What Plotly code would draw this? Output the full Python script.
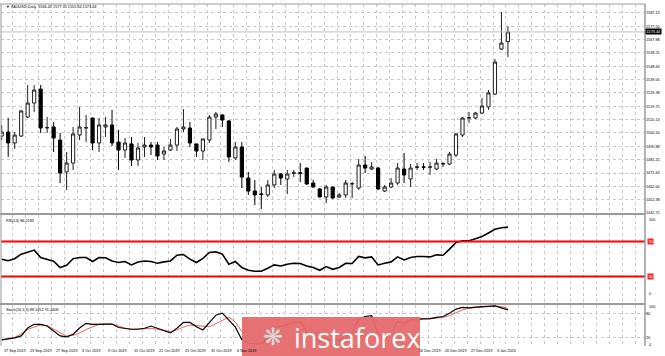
import plotly.graph_objects as go

# ---------------- data ----------------
opens = [1498.3,1501.2,1493.3,1498.3,1512.0,1522.1,1532.2,1504.1,1504.8,1495.4,
         1472.4,1478.8,1499.0,1504.1,1511.3,1493.3,1504.8,1506.3,1494.0,1488.2,
         1492.6,1481.0,1490.4,1491.8,1491.8,1485.3,1488.2,1491.8,1503.4,1504.1,
         1492.6,1487.5,1495.4,1512.0,1513.5,1509.2,1482.5,1490.4,1468.0,1458.6,
         1456.5,1455.8,1463.0,1470.9,1467.3,1471.4,1471.8,1475.2,1464.4,1460.1,
         1454.3,1461.5,1454.3,1455.8,1463.7,1460.8,1477.4,1474.5,1475.2,1458.6,
         1461.5,1464.4,1474.5,1467.3,1475.6,1476.0,1475.8,1474.5,1478.0,1478.1,
         1484.6,1499.0,1511.3,1511.3,1514.9,1519.3,1528.6,1561.1,1566.41]
highs = [1506.3,1511.3,1501.2,1517.1,1535.1,1535.1,1535.1,1512.0,1508.4,1500.5,
         1486.8,1504.8,1519.3,1513.5,1511.5,1511.3,1512.0,1517.1,1502.7,1496.9,
         1497.6,1493.3,1497.6,1494.0,1494.0,1490.4,1496.2,1504.8,1517.8,1508.4,
         1492.8,1496.4,1513.5,1515.7,1513.7,1509.9,1494.0,1494.0,1472.3,1466.6,
         1461.5,1466.6,1473.8,1471.6,1473.8,1473.8,1478.8,1475.5,1466.6,1460.8,
         1463.0,1461.8,1457.2,1466.6,1465.1,1481.7,1483.9,1479.6,1476.0,1463.0,
         1468.0,1478.8,1486.1,1478.1,1478.8,1478.8,1479.6,1481.7,1479.6,1486.8,
         1500.5,1512.0,1515.7,1515.7,1525.8,1531.5,1553.9,1587.8,1577.55]
lows = [1495.4,1483.2,1489.0,1497.6,1511.3,1515.7,1500.5,1500.5,1486.8,1464.4,
        1459.4,1473.8,1495.4,1494.0,1488.2,1486.8,1497.6,1491.1,1473.8,1482.5,
        1476.7,1476.7,1483.2,1484.6,1481.0,1481.0,1487.5,1487.5,1501.2,1490.4,
        1483.2,1481.0,1493.3,1503.4,1504.8,1479.6,1481.0,1460.8,1455.8,1448.5,
        1445.6,1454.3,1460.8,1463.0,1456.5,1468.7,1465.1,1463.0,1461.3,1454.0,
        1450.0,1452.9,1453.6,1453.6,1453.6,1459.4,1471.6,1473.8,1459.4,1457.9,
        1460.8,1463.0,1464.4,1461.5,1473.8,1473.8,1470.2,1473.8,1476.0,1477.4,
        1483.2,1497.6,1507.7,1510.6,1514.2,1517.1,1527.9,1560.4,1555.34]
closes = [1501.2,1493.3,1499.0,1516.4,1522.1,1531.5,1504.1,1504.4,1496.9,1471.6,
          1478.8,1499.8,1504.8,1504.3,1493.3,1506.3,1506.3,1493.3,1488.2,1493.3,
          1481.0,1489.7,1491.8,1490.4,1483.9,1487.5,1491.8,1503.4,1504.8,1493.3,
          1487.5,1496.2,1512.0,1514.2,1509.9,1483.2,1490.4,1468.7,1458.6,1455.8,
          1456.2,1463.0,1470.9,1468.0,1470.9,1471.8,1471.4,1463.7,1461.5,1454.3,
          1461.5,1453.6,1455.8,1464.4,1464.0,1477.4,1475.2,1476.0,1460.1,1461.5,
          1464.4,1475.2,1470.2,1475.2,1476.0,1475.8,1476.0,1478.8,1478.4,1485.3,
          1499.8,1511.3,1511.6,1514.9,1520.0,1529.4,1551.7,1565.4,1573.44]

rsi = [49.8,48.1,50.3,55.5,57.8,60.1,51.7,49.8,47.5,40.3,
       42.9,50.3,51.7,51.7,47.1,51.7,51.5,47.8,46.0,47.1,
       43.3,46.7,47.8,47.1,45.2,46.7,47.8,54.3,55.1,49.8,
       46.0,50.6,57.4,58.1,55.5,44.1,47.1,40.3,37.2,36.1,
       36.1,39.5,43.3,42.1,44.1,45.2,44.9,42.1,40.3,37.2,
       41.4,38.3,40.3,45.2,44.9,52.9,51.3,52.4,43.3,45.2,
       46.7,52.4,49.0,51.7,52.9,52.9,52.4,54.7,54.3,61.2,
       68.9,70.7,70.7,72.9,75.5,79.5,83.7,85.5,86.2183]

stoch_k = [15.1,17.5,19.9,24.7,43.9,52.8,52.8,48.7,36.7,24.7,
           22.3,28.8,43.9,55.2,52.8,53.5,53.5,53.5,45.1,42.7,
           40.8,40.8,43.2,48.7,42.7,36.7,31.9,43.2,57.6,57.6,
           47.0,39.1,55.9,75.1,80.0,63.0,46.0,15.0,8.0,5.0,
           6.0,20.0,45.0,48.0,52.0,58.0,60.0,35.0,22.0,10.0,
           20.0,12.0,14.0,30.0,32.0,65.0,72.0,74.0,30.0,25.0,
           30.0,60.0,55.0,65.0,66.0,66.0,67.0,70.0,72.0,80.0,
           90.0,94.0,93.0,95.0,96.0,97.0,98.0,93.0,88.1452]
stoch_d = [15.1,17.5,21.1,29.5,40.3,46.3,51.1,49.9,41.5,31.9,
           24.0,25.9,31.9,40.3,47.5,52.8,54.0,53.5,48.7,43.2,
           40.8,41.5,43.2,43.2,40.8,37.9,35.0,39.1,46.3,51.1,
           49.9,47.0,47.0,54.7,63.1,70.3,58.3,35.0,25.0,12.0,
           6.0,10.0,24.0,38.0,48.0,53.0,57.0,51.0,39.0,22.0,
           17.0,14.0,15.0,19.0,25.0,42.0,56.0,70.0,59.0,43.0,
           28.0,38.0,48.0,60.0,62.0,66.0,66.0,68.0,70.0,74.0,
           81.0,88.0,92.0,94.0,95.0,96.0,97.0,96.0,91.4408]

# date labels visible in the reference (the ones under the watermark are hidden there)
date_labels = ["17 Sep 2019","23 Sep 2019","27 Sep 2019","3 Oct 2019","9 Oct 2019",
               "15 Oct 2019","21 Oct 2019","25 Oct 2019","31 Oct 2019","6 Nov 2019",
               "16 Dec 2019","20 Dec 2019","27 Dec 2019","3 Jan 2020"]
date_label_bars = [0,4,8,12,16,20,24,28,32,36,64,68,72,76]

price_ticks = [1442.75,1452.38,1462.00,1471.63,1481.25,1490.88,1500.50,1510.13,
               1519.75,1529.38,1539.00,1548.63,1558.25,1567.88,1577.50,1587.13]

title_text = "\u25BC XAUUSD,Daily  1566.41 1577.55 1555.34 1573.44"
rsi_text = "RSI(14) 86.2183"
stoch_text = "Stoch(14,3,3) 88.1452 91.4408"
last_price = closes[-1]

# ---------------- figure ----------------
bars = list(range(len(closes)))
W, H = 665, 356
ML, MR, MT, MB = 1, 20, 4, 10
ph = H - MT - MB  # 342
SMALL = "Liberation Sans"
FS = 3.8

def py(pix):  # pixel row -> paper y
    return (H - MB - pix) / ph

GRID = "#c8c8c8"
fig = go.Figure()

fig.add_trace(go.Candlestick(
    x=bars, open=opens, high=highs, low=lows, close=closes,
    increasing=dict(line=dict(color="#202020", width=1), fillcolor="#ffffff"),
    decreasing=dict(line=dict(color="#000000", width=1), fillcolor="#000000"),
    whiskerwidth=0, xaxis="x", yaxis="y", showlegend=False, hoverinfo="skip"))

fig.add_trace(go.Scatter(x=bars, y=rsi, mode="lines",
                         line=dict(color="#000000", width=1.6),
                         xaxis="x", yaxis="y2", showlegend=False))
fig.add_trace(go.Scatter(x=bars, y=stoch_d, mode="lines",
                         line=dict(color="#f06060", width=1),
                         xaxis="x", yaxis="y3", showlegend=False))
fig.add_trace(go.Scatter(x=bars, y=stoch_k, mode="lines",
                         line=dict(color="#000000", width=1.2),
                         xaxis="x", yaxis="y3", showlegend=False))

fig.update_layout(
    width=W, height=H, margin=dict(l=ML, r=MR, t=MT, b=MB),
    paper_bgcolor="#ffffff", plot_bgcolor="#ffffff",
    font=dict(family=SMALL, size=FS, color="#000000"),
    xaxis=dict(range=[-0.11, 99.12], anchor="y3", showticklabels=False,
               showgrid=True, gridcolor=GRID, griddash="dot", gridwidth=1,
               tickmode="linear", tick0=1.7, dtick=2, zeroline=False,
               rangeslider=dict(visible=False), ticks=""),
    yaxis=dict(domain=[py(213), 1.0], range=[1442.76, 1593.59], side="right",
               tickvals=price_ticks, ticktext=[f"{v:.2f}" for v in price_ticks],
               showgrid=True, gridcolor=GRID, griddash="dot", zeroline=False,
               ticks="", tickfont=dict(size=FS), anchor="x"),
    yaxis2=dict(domain=[py(303), py(215)], range=[0, 100], side="right",
                showticklabels=False, showgrid=False, zeroline=False, anchor="x"),
    yaxis3=dict(domain=[0, py(305)], range=[0, 100], side="right",
                tickvals=[20, 80], ticktext=["20", "80"], showgrid=True,
                gridcolor=GRID, griddash="dot", zeroline=False, ticks="",
                tickfont=dict(size=FS), anchor="x"),
)

shapes = []
for lv in (70, 30):
    shapes.append(dict(type="line", xref="paper", yref="y2", x0=0, x1=1, y0=lv, y1=lv,
                       line=dict(color="#ff0000", width=2)))
shapes.append(dict(type="line", xref="paper", yref="y", x0=0, x1=1,
                   y0=last_price, y1=last_price, line=dict(color="#c0c0c0", width=1)))
for pix in (214, 304):
    shapes.append(dict(type="line", xref="paper", yref="paper", x0=-0.002, x1=1.0,
                       y0=py(pix), y1=py(pix), line=dict(color="#9a9a9a", width=2)))
shapes.append(dict(type="line", xref="paper", yref="paper", x0=1.0, x1=1.0,
                   y0=0, y1=1.0, line=dict(color="#9a9a9a", width=1.5)))
shapes.append(dict(type="line", xref="paper", yref="paper", x0=0.0, x1=0.0,
                   y0=0, y1=1.0, line=dict(color="#9a9a9a", width=1)))
shapes.append(dict(type="line", xref="paper", yref="paper", x0=-0.002, x1=1.0,
                   y0=1.0, y1=1.0, line=dict(color="#9a9a9a", width=1)))
shapes.append(dict(type="rect", xref="paper", yref="paper",
                   x0=(242 - ML) / 644, x1=(420 - ML) / 644, y0=py(357), y1=py(317),
                   fillcolor="#e56a6c", line=dict(width=0), opacity=0.95, layer="above"))
fig.update_layout(shapes=shapes)

ann = []
ann.append(dict(text=title_text, xref="paper", yref="paper", x=0.004, y=py(3),
                xanchor="left", yanchor="top", showarrow=False, font=dict(size=FS)))
ann.append(dict(text=rsi_text, xref="paper", yref="paper", x=0.004, y=py(216.5),
                xanchor="left", yanchor="top", showarrow=False, font=dict(size=FS)))
ann.append(dict(text=stoch_text, xref="paper", yref="paper", x=0.004, y=py(305.5),
                xanchor="left", yanchor="top", showarrow=False, font=dict(size=FS)))
ann.append(dict(text=f"{last_price:.2f}", xref="paper", yref="y", x=1.0, y=last_price,
                xanchor="left", yanchor="middle", showarrow=False,
                font=dict(size=FS, color="#ffffff"), bgcolor="#000000", borderpad=0.5))
for lv in (70, 30):
    ann.append(dict(text=str(lv), xref="paper", yref="y2", x=1.0, y=lv,
                    xanchor="left", yanchor="middle", showarrow=False,
                    font=dict(size=FS, color="#ffffff"), bgcolor="#ff2020", borderpad=0.5,
                    xshift=2))
ann.append(dict(text="100", xref="paper", yref="paper", x=1.0, y=py(215.5), xanchor="left",
                yanchor="top", showarrow=False, font=dict(size=FS), xshift=2))
ann.append(dict(text="0", xref="paper", yref="paper", x=1.0, y=py(294), xanchor="left",
                yanchor="middle", showarrow=False, font=dict(size=FS), xshift=2))
ann.append(dict(text="100", xref="paper", yref="paper", x=1.0, y=py(306.5), xanchor="left",
                yanchor="middle", showarrow=False, font=dict(size=FS), xshift=2))
ann.append(dict(text="0", xref="paper", yref="paper", x=1.0, y=py(344.5), xanchor="left",
                yanchor="middle", showarrow=False, font=dict(size=FS), xshift=2))
for b, lab in zip(date_label_bars, date_labels):
    ann.append(dict(text=lab, xref="x", yref="paper", x=b, y=py(347.5),
                    xanchor="left", yanchor="top", showarrow=False, font=dict(size=FS)))
ann.append(dict(text="instaforex", xref="paper", yref="paper", x=(292 - ML) / 644,
                y=py(337), xanchor="left", yanchor="middle", showarrow=False,
                font=dict(family="Open Sans", size=27, color="#ffffff")))
ann.append(dict(text="\u274B", xref="paper", yref="paper", x=(273 - ML) / 644,
                y=py(337), xanchor="center", yanchor="middle", showarrow=False,
                font=dict(family="DejaVu Sans", size=24, color="#d8d8d8")))
fig.update_layout(annotations=ann)

fig.write_html("out.html")
